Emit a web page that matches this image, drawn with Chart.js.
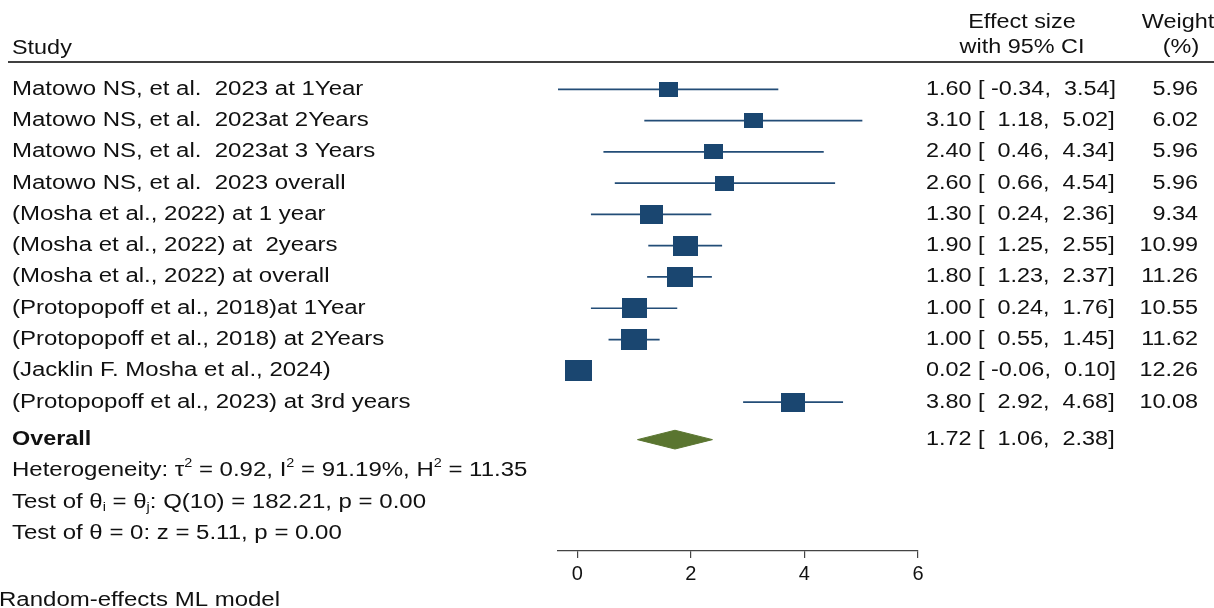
<!DOCTYPE html>
<html lang="en">
<head>
    <meta charset="UTF-8">
    <title>Forest plot - random-effects ML model</title>
    <style>
        body { margin: 0; background: #fff; }
        canvas { display: block; }
    </style>
</head>
<body>
    <canvas id="forest" width="1214" height="608"></canvas>
    <script src="https://cdn.jsdelivr.net/npm/chart.js"></script>
    <script>
        const studies = [
            "Matowo NS, et al.  2023 at 1Year",
            "Matowo NS, et al.  2023at 2Years",
            "Matowo NS, et al.  2023at 3 Years",
            "Matowo NS, et al.  2023 overall",
            "(Mosha et al., 2022) at 1 year",
            "(Mosha et al., 2022) at  2years",
            "(Mosha et al., 2022) at overall",
            "(Protopopoff et al., 2018)at 1Year",
            "(Protopopoff et al., 2018) at 2Years",
            "(Jacklin F. Mosha et al., 2024)",
            "(Protopopoff et al., 2023) at 3rd years"
        ];
        const effect = [1.60, 3.10, 2.40, 2.60, 1.30, 1.90, 1.80, 1.00, 1.00, 0.02, 3.80];
        const lower  = [-0.34, 1.18, 0.46, 0.66, 0.24, 1.25, 1.23, 0.24, 0.55, -0.06, 2.92];
        const upper  = [3.54, 5.02, 4.34, 4.54, 2.36, 2.55, 2.37, 1.76, 1.45, 0.10, 4.68];
        const weights = [5.96, 6.02, 5.96, 5.96, 9.34, 10.99, 11.26, 10.55, 11.62, 12.26, 10.08];
        const overall = { es: 1.72, lo: 1.06, hi: 2.38 };
        const xTicks = [0, 2, 4, 6];

        const FONT = "'Liberation Sans', Arial, sans-serif";
        const SX = 1.17;     // the source image is stretched sideways
        const SX_L = 1.2;    // left-hand labels look a touch wider still
        const BOX = "#1a4670";
        const OVERALL_ROW = 11.2;

        function fmt(v) {
            let s = v.toFixed(2);
            while (s.length < 6) s = " " + s;
            return s;
        }

        // square markers, area proportional to weight
        const boxCache = {};
        function boxFor(w) {
            if (!boxCache[w]) {
                const c = document.createElement("canvas");
                c.width = Math.round(7.6 * Math.sqrt(w));
                c.height = Math.round(6.1 * Math.sqrt(w));
                const g = c.getContext("2d");
                g.fillStyle = BOX;
                g.fillRect(0, 0, c.width, c.height);
                boxCache[w] = c;
            }
            return boxCache[w];
        }

        const ciSets = studies.map((s, i) => ({
            data: [{ x: lower[i], y: i }, { x: upper[i], y: i }],
            showLine: true,
            borderColor: "#234d77",
            borderWidth: 1.7,
            pointRadius: 0,
            order: 2
        }));

        const boxSet = {
            data: effect.map((e, i) => ({ x: e, y: i })),
            pointStyle: (ctx) => boxFor(weights[ctx.dataIndex]),
            pointRadius: 10,
            order: 0
        };

        const dh = 0.3;
        const diamondSet = {
            data: [
                { x: overall.lo, y: OVERALL_ROW },
                { x: overall.es, y: OVERALL_ROW - dh },
                { x: overall.hi, y: OVERALL_ROW },
                { x: overall.es, y: OVERALL_ROW + dh },
                { x: overall.lo, y: OVERALL_ROW }
            ],
            showLine: true,
            fill: "shape",
            borderColor: "#5a7530",
            backgroundColor: "#5a7530",
            borderWidth: 1,
            pointRadius: 0,
            order: 1
        };

        function txt(ctx, s, x, y, align, font, sx) {
            ctx.save();
            ctx.translate(x, y);
            ctx.scale(sx || SX, 1);
            ctx.font = font || ("20px " + FONT);
            ctx.textAlign = align || "left";
            ctx.textBaseline = "middle";
            ctx.fillStyle = "#111";
            ctx.fillText(s, 0, 0);
            ctx.restore();
        }

        // text with small super/subscripts: [text, 0 normal | 1 sup | 2 sub]
        function rich(ctx, segs, x, y) {
            ctx.save();
            ctx.translate(x, y);
            ctx.scale(SX_L, 1);
            ctx.textBaseline = "middle";
            ctx.fillStyle = "#111";
            let cx = 0;
            segs.forEach(([t, k]) => {
                ctx.font = (k ? "12px " : "20px ") + FONT;
                const dy = k === 1 ? -7 : (k === 2 ? 5 : 0);
                ctx.fillText(t, cx, dy);
                cx += ctx.measureText(t).width;
            });
            ctx.restore();
        }

        const tablePlugin = {
            id: "table",
            afterDraw(chart) {
                const ctx = chart.ctx;
                const ys = chart.scales.y;

                txt(ctx, "Study", 12, 48);
                txt(ctx, "Effect size", 1022, 22, "center");
                txt(ctx, "with 95% CI", 1022, 47, "center");
                txt(ctx, "Weight", 1178, 22, "center");
                txt(ctx, "(%)", 1181, 47, "center");

                ctx.save();
                ctx.strokeStyle = "#000";
                ctx.lineWidth = 1.6;
                ctx.beginPath();
                ctx.moveTo(8, 62);
                ctx.lineTo(1214, 62);
                ctx.stroke();
                ctx.restore();

                studies.forEach((s, i) => {
                    const y = ys.getPixelForValue(i);
                    txt(ctx, s, 12, y, "left", null, SX_L);
                    txt(ctx, effect[i].toFixed(2) + " [" + fmt(lower[i]) + "," + fmt(upper[i]) + "]", 926, y);
                    txt(ctx, weights[i].toFixed(2), 1198, y, "right");
                });

                const oy = ys.getPixelForValue(OVERALL_ROW);
                txt(ctx, "Overall", 12, oy, "left", "bold 20px " + FONT);
                txt(ctx, overall.es.toFixed(2) + " [" + fmt(overall.lo) + "," + fmt(overall.hi) + "]", 926, oy);

                rich(ctx, [["Heterogeneity: \u03c4", 0], ["2", 1], [" = 0.92, I", 0], ["2", 1],
                           [" = 91.19%, H", 0], ["2", 1], [" = 11.35", 0]], 12, ys.getPixelForValue(12.2));
                rich(ctx, [["Test of \u03b8", 0], ["i", 2], [" = \u03b8", 0], ["j", 2],
                           [": Q(10) = 182.21, p = 0.00", 0]], 12, ys.getPixelForValue(13.2));
                rich(ctx, [["Test of \u03b8 = 0: z = 5.11, p = 0.00", 0]], 12, ys.getPixelForValue(14.2));

                txt(ctx, "Random-effects ML model", -1, 600, "left", null, SX_L);
            }
        };

        new Chart(document.getElementById("forest"), {
            type: "scatter",
            data: { datasets: [boxSet, diamondSet].concat(ciSets) },
            plugins: [tablePlugin],
            options: {
                responsive: false,
                animation: false,
                layout: { padding: { left: 558, right: 296, top: 58, bottom: 0 } },
                plugins: { legend: { display: false }, tooltip: { enabled: false } },
                scales: {
                    x: {
                        type: "linear",
                        min: -0.34,
                        max: 6,
                        afterBuildTicks: (scale) => { scale.ticks = xTicks.map(v => ({ value: v })); },
                        afterFit: (scale) => { scale.height = 57; },
                        grid: { drawOnChartArea: false, tickLength: 7, color: "#444", lineWidth: 1.2 },
                        border: { color: "#444", width: 1.2 },
                        ticks: { color: "#111", padding: 4, font: { family: FONT, size: 20 } }
                    },
                    y: {
                        type: "linear",
                        display: false,
                        reverse: true,
                        min: -1,
                        max: 14.76
                    }
                }
            }
        });
    </script>
</body>
</html>
